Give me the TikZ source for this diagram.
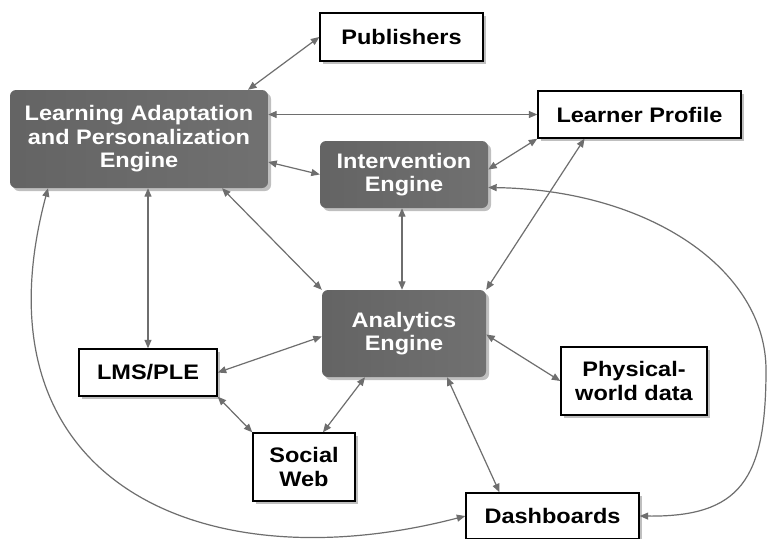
\documentclass[tikz,border=0pt]{standalone}
\usepackage{fontspec}
\setmainfont{Liberation Sans}[FakeStretch=1.12]
\usetikzlibrary{arrows.meta,shadows}
\definecolor{darkbox}{HTML}{696969}
\definecolor{linegray}{HTML}{6E6E6E}
\begin{document}
\begin{tikzpicture}[x=1pt,y=-1pt,
  every node/.style={font=\bfseries\fontsize{21}{23.5}\selectfont, align=center, inner sep=0pt},
  darknode/.style={rounded corners=6pt, left color=darkbox!95!black, right color=darkbox!95!white, text=white,
    drop shadow={shadow xshift=3pt,shadow yshift=-3pt,fill=black,opacity=0.25}},
  whitenode/.style={draw=black, line width=1.4pt, fill=white, text=black,
    drop shadow={shadow xshift=3pt,shadow yshift=-3pt,fill=black,opacity=0.25}},
  conn/.style={draw=linegray, line width=1.2pt, {Triangle[length=8.5pt,width=7pt]}-{Triangle[length=8.5pt,width=7pt]}, fill=none}
]
\useasboundingbox (0,0) rectangle (768,538);
\fill[white] (0,0) rectangle (768,538);

\node[whitenode, minimum width=163pt, minimum height=48pt] (pub) at (401.5,37) {Publishers};
\node[darknode, minimum width=258pt, minimum height=98pt] (lape) at (139,139) {Learning Adaptation\\and Personalization\\Engine};
\node[whitenode, minimum width=203pt, minimum height=47pt] (lp) at (639.5,114.5) {Learner Profile};
\node[darknode, minimum width=168pt, minimum height=67pt] (ie) at (404,174.5) {Intervention\\Engine};
\node[darknode, minimum width=164pt, minimum height=87pt] (ae) at (404,333.5) {Analytics\\Engine};
\node[whitenode, minimum width=138pt, minimum height=47pt] (lms) at (148,372.5) {LMS/PLE};
\node[whitenode, minimum width=146pt, minimum height=68pt] (pw) at (634,381) {Physical-\\world data};
\node[whitenode, minimum width=102pt, minimum height=68pt] (sw) at (304,467) {Social\\Web};
\node[whitenode, minimum width=173pt, minimum height=46pt] (db) at (552.5,516) {Dashboards};

\draw[conn] (pub.west) -- ([xshift=109pt]lape.north);
\draw[conn] (lp.west -| lape.east) -- (lp.west);
\draw[conn] ([yshift=-23pt]lape.east) -- (ie.west);
\draw[conn] ([yshift=5pt]ie.east) -- (lp.south west);
\draw[conn] (ae.north east) -- ([xshift=-55pt]lp.south);
\draw[conn] ([xshift=-2pt]ie.south) -- ([xshift=-2pt]ae.north);
\draw[conn] ([xshift=83pt]lape.south) -- (ae.north west);
\draw[conn] (lms.north |- lape.south) -- (lms.north);
\draw[conn] ([yshift=-3pt]ae.west) -- (lms.east);
\draw[conn] (lms.south east) -- (sw.north west);
\draw[conn] ([xshift=19pt]sw.north) -- ([xshift=-39pt]ae.south);
\draw[conn] ([yshift=-1pt]ae.east) -- (pw.west);
\draw[conn] ([xshift=43pt]ae.south) -- ([xshift=-53pt]db.north);
\draw[conn] ([xshift=-91pt]lape.south) .. controls (-30,480) and (200,585) .. (db.west);
\coordinate (rc) at (766,370);
\draw[conn] ([yshift=-13pt]ie.east) .. controls (650,190) and (766,270) .. (rc) .. controls (766,480) and (740,517) .. (db.east);
\end{tikzpicture}
\end{document}
